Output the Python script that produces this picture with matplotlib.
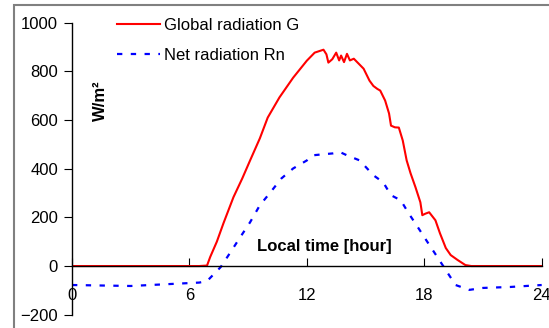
import matplotlib
matplotlib.use('Agg')
import matplotlib.pyplot as plt
from matplotlib.patches import Rectangle

plt.rcParams['font.family'] = ['Liberation Sans', 'DejaVu Sans']

# Global radiation G (W/m2) vs local time
g_hours = [0, 6.5, 6.9, 7.06, 7.4, 7.74, 8.25, 8.7, 9.1, 9.6, 10.0, 10.6, 11.3,
           12.0, 12.4, 12.7, 12.85, 13.0, 13.1, 13.3, 13.5, 13.65, 13.75, 13.9,
           14.05, 14.2, 14.4, 14.9, 15.2, 15.4, 15.6, 15.75, 16.0, 16.2, 16.3,
           16.5, 16.7, 16.9, 17.1, 17.3, 17.55, 17.8, 17.9, 18.05, 18.25, 18.57,
           18.8, 19.1, 19.35, 19.7, 20.1, 20.4, 24]
g_values = [0, 0, 2, 37, 100, 176, 283, 360, 434, 525, 610, 693, 774,
            844, 877, 885, 889, 870, 836, 850, 877, 845, 865, 838,
            872, 845, 852, 811, 762, 740, 728, 721, 680, 627, 577,
            570, 569, 516, 434, 381, 324, 262, 209, 215, 221, 188,
            135, 74, 45, 25, 4, 0, 0]

# Net radiation Rn (W/m2)
n_hours = [0, 3, 6, 6.5, 6.9, 7.6, 8.1, 8.6, 9.1, 9.6, 10.1, 10.7, 11.3, 12.0,
           12.3, 12.8, 13.35, 13.7, 14.05, 14.7, 15.4, 15.9, 16.3, 16.8, 17.2,
           17.7, 18.2, 18.7, 19.2, 19.6, 20.3, 21.0, 22.4, 24]
n_values = [-78, -82, -70, -68, -62, -4, 57, 119, 180, 250, 299, 360, 401, 434,
            455, 459, 463, 468, 455, 434, 373, 344, 291, 270, 217,
            156, 94, 33, -29, -78, -98, -90, -86, -78]

x_ticks = [0, 6, 12, 18, 24]
y_ticks = [-200, 0, 200, 400, 600, 800, 1000]

fig = plt.figure(figsize=(5.49, 3.28), dpi=100)
ax = fig.add_axes([72 / 549, 1 - 314.7 / 328, (541.7 - 72) / 549, (314.7 - 22.7) / 328])

ax.plot(g_hours, g_values, color='#ff0000', lw=1.5, label='Global radiation G')
ax.plot(n_hours, n_values, color='#0000ff', lw=1.6, ls=(0, (2.4, 3.8)),
        label='Net radiation Rn')

ax.set_xlim(0, 24)
ax.set_ylim(-200, 1000)
ax.set_xticks(x_ticks)
ax.set_yticks(y_ticks)

ax.spines['top'].set_visible(False)
ax.spines['right'].set_visible(False)
ax.spines['bottom'].set_position(('data', 0))
for s in ['left', 'bottom']:
    ax.spines[s].set_linewidth(1.0)

ax.tick_params(axis='x', direction='in', length=6, pad=16, labelsize=12, colors='black')
ax.tick_params(axis='y', direction='out', length=6, pad=4, labelsize=12)

ax.text(12.9, 80, 'Local time [hour]', fontsize=12, fontweight='bold',
        ha='center', va='center')
ax.text(1.43, 680, 'W/m²', fontsize=12, fontweight='bold', rotation=90,
        ha='center', va='center')

ax.legend(loc='upper left', bbox_to_anchor=(117 / 549, 1 - 18 / 328),
          bbox_transform=fig.transFigure, frameon=False, fontsize=12,
          handlelength=2.6, handletextpad=0.2, labelspacing=0.9,
          borderpad=0, borderaxespad=0)

# outer chart border (cropped at right and bottom)
fig.patches.append(Rectangle((14 / 549, -0.1), 1.2, 1.1 - 5 / 328,
                             transform=fig.transFigure, fill=False,
                             edgecolor='#808080', lw=1.5))

fig.savefig('out.png', dpi=100)
